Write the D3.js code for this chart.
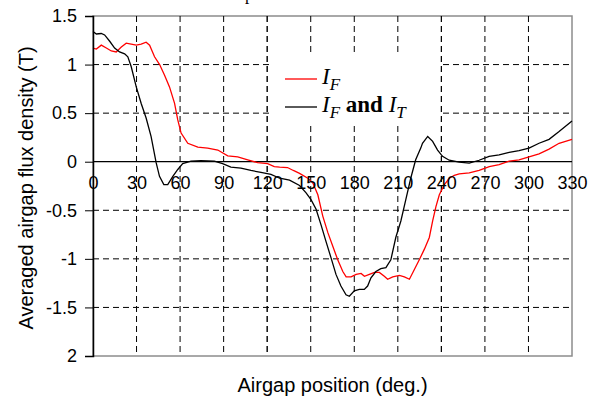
<!DOCTYPE html>
<html>
<head>
<meta charset="utf-8">
<script src="https://cdn.jsdelivr.net/npm/d3@7/dist/d3.min.js"></script>
<style>
  body { margin: 0; background: #fff; }
  svg { display: block; }
  .tick-label { font-family: "Liberation Sans", Arial, sans-serif; font-size: 18px; fill: #000; }
  .axis-title { font-family: "Liberation Sans", Arial, sans-serif; font-size: 20px; fill: #000; }
  .legend-text { font-family: "Liberation Serif", "Times New Roman", serif; font-size: 23px; fill: #000; }
</style>
</head>
<body>
<script>
//tick values and labels
var xTicks = [0, 30, 60, 90, 120, 150, 180, 210, 240, 270, 300, 330];
var yTicks = [1.5, 1, 0.5, 0, -0.5, -1, -1.5, -2];
var yTickLabels = ["1.5", "1", "0.5", "0", "-0.5", "-1", "-1.5", "2"];

//series: I_F only (red)
var degF = [0, 2.3, 5.7, 9.2, 12.6, 16, 19.5, 22.9, 26.3, 29.8, 33.2, 36.6, 39, 42.4, 45.9, 49.3,
  52.7, 56.2, 58.4, 60.7, 65.3, 72.2, 79, 86, 92.8, 99.7, 106.6, 113.4, 120.3, 124.9, 128.6,
  134, 138, 142.3, 148, 151.5, 154.9, 158.3, 161.8, 165.2, 168.6, 172.1, 174.4, 177.8, 181.3,
  184.7, 187, 190.4, 193.9, 197.3, 200.7, 203, 206.5, 211.1, 214.5, 218, 221.4, 224.8, 228.3,
  231.7, 234, 236.3, 238.6, 242.1, 245.5, 248.9, 252.3, 259.2, 266, 273, 279.8, 286.7, 293.5,
  300.4, 307.3, 314.2, 321.1, 330];
var valF = [1.17, 1.16, 1.20, 1.17, 1.14, 1.13, 1.18, 1.22, 1.21, 1.20, 1.21, 1.23, 1.20, 1.08, 1.00, 0.89,
  0.77, 0.60, 0.43, 0.295, 0.19, 0.15, 0.14, 0.12, 0.06, 0.05, 0.02, -0.01, -0.02, -0.05, -0.055,
  -0.06, -0.09, -0.12, -0.17, -0.22, -0.34, -0.56, -0.73, -0.87, -1.01, -1.13, -1.185, -1.185, -1.16,
  -1.15, -1.18, -1.16, -1.14, -1.14, -1.18, -1.21, -1.185, -1.17, -1.185, -1.21, -1.11, -1.01, -0.90,
  -0.78, -0.61, -0.46, -0.34, -0.235, -0.17, -0.14, -0.125, -0.115, -0.09, -0.05, -0.03, 0.005, 0.02,
  0.05, 0.08, 0.13, 0.19, 0.23];

//series: I_F and I_T (black)
var degT = [0, 2.3, 5.7, 8, 11.5, 14.9, 18.3, 21.8, 24, 26.3, 29.8, 33.2, 36.6, 40, 43.5, 45.8,
  48.8, 51.5, 55, 58.4, 61.8, 67.5, 74.4, 83.6, 89.3, 95, 101.9, 108.8, 115.7, 122.6, 128.6,
  135.4, 142.3, 146.8, 150.2, 153.7, 157.1, 160.5, 164, 167.4, 170.8, 174.3, 176.6, 180, 183.5,
  186.9, 189.2, 191.5, 194.9, 198.3, 201.8, 205.2, 208.6, 212.1, 215.5, 218.9, 222.3, 225.8, 227,
  230.6, 234, 237.4, 240.8, 245.4, 252.3, 259.2, 266, 272.9, 279.8, 286.7, 293.5, 300.4, 307.3,
  314.2, 321.1, 330];
var valT = [1.34, 1.315, 1.32, 1.305, 1.24, 1.17, 1.13, 1.11, 1.08, 0.98, 0.77, 0.60, 0.45, 0.26, -0.01, -0.15,
  -0.235, -0.235, -0.15, -0.08, -0.02, 0.005, 0.01, 0.005, -0.02, -0.055, -0.065, -0.09, -0.11, -0.13, -0.17,
  -0.19, -0.245, -0.32, -0.39, -0.49, -0.65, -0.82, -0.99, -1.16, -1.28, -1.37, -1.385, -1.33, -1.315,
  -1.315, -1.28, -1.195, -1.13, -1.10, -1.09, -1.01, -0.78, -0.61, -0.39, -0.17, 0.02, 0.14, 0.19,
  0.26, 0.21, 0.12, 0.055, 0.015, -0.005, -0.015, 0.015, 0.055, 0.07, 0.095, 0.115, 0.14, 0.19,
  0.23, 0.31, 0.42];

var w = 593, h = 401;
var pLeft = 93, pRight = 572, pTop = 16, pBottom = 356;

var svg = d3.select("body").append("svg")
    .attr("width", w)
    .attr("height", h);

var x = d3.scaleLinear().domain([0, 330]).range([pLeft, pRight]);
var y = d3.scaleLinear().domain([-2, 1.5]).range([pBottom, pTop]);

//cut-off caption at the very top (only its lower edge shows)
svg.append("text")
    .attr("x", 245)
    .attr("y", 0)
    .style("font-family", "Liberation Serif, serif")
    .style("font-size", "17px")
    .text("pole section C");

//plot border (grey)
svg.append("rect")
    .attr("x", pLeft)
    .attr("y", pTop)
    .attr("width", pRight - pLeft)
    .attr("height", pBottom - pTop)
    .style("fill", "none")
    .style("stroke", "#8c8c8c")
    .style("stroke-width", 1.5);

//dashed grid
svg.selectAll(".vgrid")
    .data(xTicks.filter(function(d){ return d > 0 && d < 330; }))
    .enter()
    .append("line")
    .attr("class", "vgrid")
    .attr("x1", function(d){ return x(d); })
    .attr("x2", function(d){ return x(d); })
    .attr("y1", pTop)
    .attr("y2", pBottom)
    .style("stroke", "#000")
    .style("stroke-width", 1)
    .style("stroke-dasharray", "6,4");

svg.selectAll(".hgrid")
    .data(yTicks.filter(function(d){ return d !== 0 && d !== 1.5 && d !== -2; }))
    .enter()
    .append("line")
    .attr("class", "hgrid")
    .attr("x1", pLeft)
    .attr("x2", pRight)
    .attr("y1", function(d){ return y(d); })
    .attr("y2", function(d){ return y(d); })
    .style("stroke", "#000")
    .style("stroke-width", 1)
    .style("stroke-dasharray", "6,4");

//legend box (white, hides the grid behind it)
svg.append("rect")
    .attr("x", 269)
    .attr("y", 53)
    .attr("width", 171)
    .attr("height", 72)
    .style("fill", "#fff");

//grid lines that stay visible through the legend
svg.selectAll(".vgrid2")
    .data([120, 240])
    .enter()
    .append("line")
    .attr("x1", function(d){ return x(d); })
    .attr("x2", function(d){ return x(d); })
    .attr("y1", pTop)
    .attr("y2", pBottom)
    .style("stroke", "#000")
    .style("stroke-width", 1)
    .style("stroke-dasharray", "6,4");

//zero line
svg.append("line")
    .attr("x1", pLeft)
    .attr("x2", pRight)
    .attr("y1", y(0))
    .attr("y2", y(0))
    .style("stroke", "#000")
    .style("stroke-width", 1.2);

//curves
var line = d3.line()
    .x(function(d){ return x(d[0]); })
    .y(function(d){ return y(d[1]); });

svg.append("path")
    .datum(d3.zip(degF, valF))
    .attr("d", line)
    .style("fill", "none")
    .style("stroke", "#ff0000")
    .style("stroke-width", 1.3);

svg.append("path")
    .datum(d3.zip(degT, valT))
    .attr("d", line)
    .style("fill", "none")
    .style("stroke", "#000")
    .style("stroke-width", 1.3);

//left axis
var yAxis = d3.axisLeft(y)
    .tickValues(yTicks)
    .tickSize(8)
    .tickFormat(function(d, i){ return yTickLabels[i]; });

var gy = svg.append("g")
    .attr("transform", "translate(" + pLeft + ",0)")
    .call(yAxis);
gy.attr("font-family", null).attr("font-size", null);
gy.select(".domain").style("stroke", "#000").style("stroke-width", 1.5);
gy.selectAll(".tick line").style("stroke", "#000");
gy.selectAll(".tick text")
    .attr("class", "tick-label")
    .attr("x", -16);

//x tick labels sitting under the zero line
var xAxis = d3.axisBottom(x)
    .tickValues(xTicks)
    .tickSize(0)
    .tickPadding(24);

var gx = svg.append("g")
    .attr("transform", "translate(0," + y(0) + ")")
    .call(xAxis);
gx.select(".domain").remove();
gx.attr("font-family", null).attr("font-size", null);
gx.selectAll(".tick text").attr("class", "tick-label").attr("dy", "0.2em");

//axis titles
svg.append("text")
    .attr("class", "axis-title")
    .attr("text-anchor", "middle")
    .attr("transform", "translate(33," + ((pTop + pBottom) / 2 + 2) + ") rotate(-90)")
    .text("Averaged airgap flux density (T)");

svg.append("text")
    .attr("class", "axis-title")
    .attr("text-anchor", "middle")
    .attr("x", (pLeft + pRight) / 2)
    .attr("y", 392)
    .text("Airgap position (deg.)");

//legend
var legendItems = [
  { color: "#ff0000", y: 79, parts: [["I", "italic", "normal", 0], ["F", "italic", "normal", 1]] },
  { color: "#000", y: 107, parts: [["I", "italic", "normal", 0], ["F", "italic", "normal", 1],
      [" and ", "normal", "bold", 0], ["I", "italic", "normal", 0], ["T", "italic", "normal", 1]] }
];

var leg = svg.selectAll(".legend")
    .data(legendItems)
    .enter()
    .append("g")
    .attr("class", "legend");

leg.append("line")
    .attr("x1", 285)
    .attr("x2", 317)
    .attr("y1", function(d){ return d.y; })
    .attr("y2", function(d){ return d.y; })
    .style("stroke", function(d){ return d.color; })
    .style("stroke-width", 1.3);

var lt = leg.append("text")
    .attr("class", "legend-text")
    .attr("x", 322)
    .attr("y", function(d){ return d.y + 5; });

lt.selectAll("tspan")
    .data(function(d){ return d.parts; })
    .enter()
    .append("tspan")
    .style("font-style", function(p){ return p[1]; })
    .style("font-weight", function(p){ return p[2]; })
    .style("font-size", function(p){ return p[3] ? "17px" : null; })
    .attr("dy", function(p, i, nodes){
        var prev = i > 0 ? d3.select(nodes[i - 1]).datum()[3] : 0;
        return (p[3] - prev) * 6;
    })
    .attr("xml:space", "preserve")
    .text(function(p){ return p[0]; });
</script>
</body>
</html>
